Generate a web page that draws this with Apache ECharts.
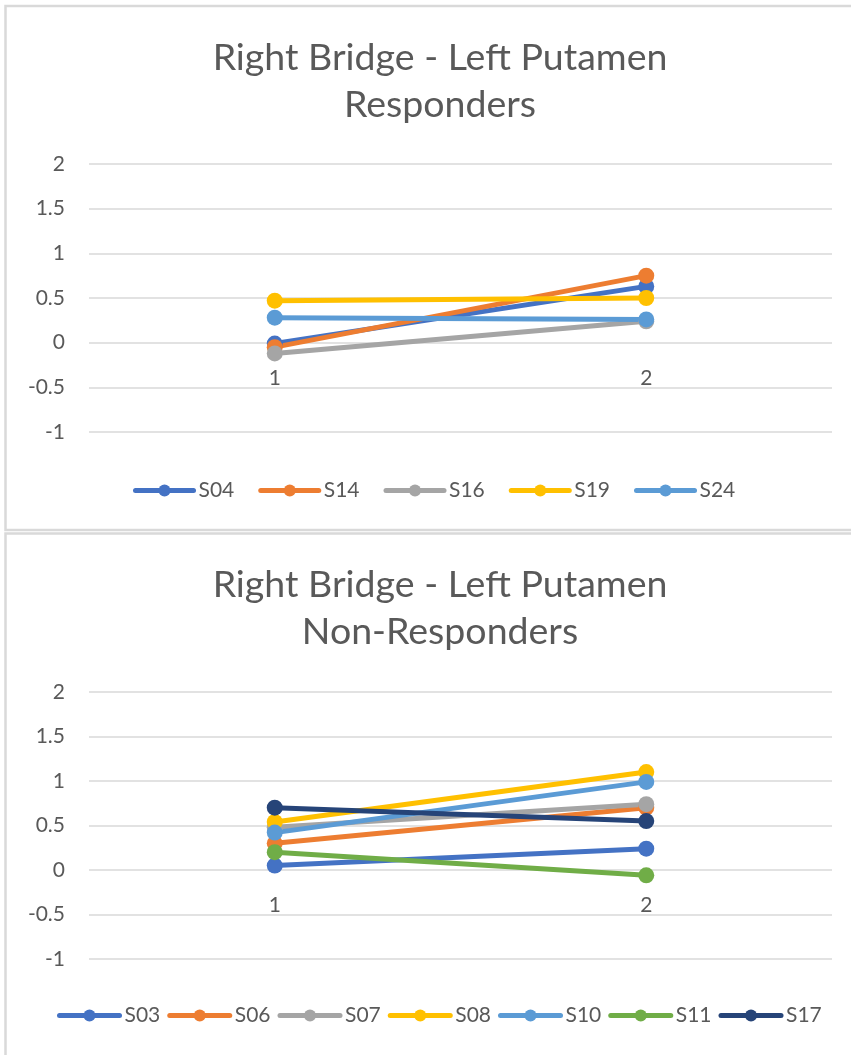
<!DOCTYPE html>
<html>
<head>
<meta charset="utf-8">
<script src="https://cdn.jsdelivr.net/npm/echarts@6/dist/echarts.min.js"></script>
<style>
  html, body { margin: 0; padding: 0; background: #ffffff; overflow: hidden; }
  #chart { width: 851px; height: 1055px; }
</style>
</head>
<body>
<div id="chart"></div>
<script>
// Timepoints on the category axis
const timepoints = ['1', '2'];

// Responders
const respNames = ['S04', 'S14', 'S16', 'S19', 'S24'];
const S04 = [-0.01, 0.63];
const S14 = [-0.05, 0.75];
const S16 = [-0.12, 0.24];
const S19 = [0.47, 0.50];
const S24 = [0.28, 0.26];
const respValues = [S04, S14, S16, S19, S24];

// Non-responders
const nonNames = ['S03', 'S06', 'S07', 'S08', 'S10', 'S11', 'S17'];
const S03 = [0.05, 0.24];
const S06 = [0.30, 0.70];
const S07 = [0.48, 0.74];
const S08 = [0.54, 1.10];
const S10 = [0.42, 0.99];
const S11 = [0.20, -0.06];
const S17 = [0.70, 0.55];
const nonValues = [S03, S06, S07, S08, S10, S11, S17];

const yTicks = { min: -1, max: 2, interval: 0.5 };

const respColors = ['#4472C4', '#ED7D31', '#A5A5A5', '#FFC000', '#5B9BD5'];
const nonColors = ['#4472C4', '#ED7D31', '#A5A5A5', '#FFC000', '#5B9BD5', '#70AD47', '#264478'];

const FONT = 'Lato, "Open Sans", sans-serif';
const TEXT = '#595959';
const GRID = '#d9d9d9';

// Category labels sit on the zero line: shift the x axis up from the grid bottom
// by the pixel distance between y = -1 and y = 0.
function axisPair(idx, gridHeight) {
  const zeroShift = gridHeight * (0 - yTicks.min) / (yTicks.max - yTicks.min);
  return {
    x: {
      type: 'category', gridIndex: idx, data: timepoints,
      offset: -zeroShift,
      axisLine: { show: false, onZero: false },
      axisTick: { show: false },
      axisLabel: { color: TEXT, fontSize: 21, fontFamily: FONT, margin: 25 }
    },
    y: {
      type: 'value', gridIndex: idx, min: yTicks.min, max: yTicks.max, interval: yTicks.interval,
      axisLine: { show: false }, axisTick: { show: false },
      axisLabel: { color: TEXT, fontSize: 21, fontFamily: FONT, margin: 24 },
      splitLine: { lineStyle: { color: GRID, width: 1.5 } }
    }
  };
}

function makeSeries(names, values, colors, idx) {
  return names.map((n, i) => ({
    name: n, type: 'line', xAxisIndex: idx, yAxisIndex: idx,
    data: values[i], symbol: 'circle', symbolSize: 16,
    lineStyle: { width: 5, color: colors[i] },
    itemStyle: { color: colors[i] },
    emphasis: { disabled: true },
    animation: false
  }));
}

const GRID_H = [268, 267];
const a0 = axisPair(0, GRID_H[0]), a1 = axisPair(1, GRID_H[1]);

const legendBase = {
  itemHeight: 15,
  lineStyle: { width: 5, cap: 'round' },
  textStyle: { color: TEXT, fontSize: 21, fontFamily: FONT },
  selectedMode: false
};

const titleText = { color: TEXT, fontSize: 37.5, fontWeight: 'normal', fontFamily: FONT, lineHeight: 47 };

const option = {
  animation: false,
  graphic: [
    { type: 'rect', shape: { x: 5.5, y: 6, width: 880, height: 524 }, style: { fill: 'none', stroke: GRID, lineWidth: 2.5 } },
    { type: 'rect', shape: { x: 5.5, y: 533.5, width: 880, height: 540 }, style: { fill: 'none', stroke: GRID, lineWidth: 2.5 } }
  ],
  title: [
    { text: 'Right Bridge - Left Putamen\nResponders', left: 435, top: 29, textAlign: 'center', textStyle: titleText },
    { text: 'Right Bridge - Left Putamen\nNon-Responders', left: 435, top: 556, textAlign: 'center', textStyle: titleText }
  ],
  legend: [
    Object.assign({ data: respNames, left: 128, top: 475, itemWidth: 58, itemGap: 24 }, legendBase),
    Object.assign({ data: nonNames, left: 52, top: 1000, itemWidth: 60, itemGap: 7 }, legendBase)
  ],
  grid: [
    { left: 89, right: 19, top: 164, height: GRID_H[0] },
    { left: 89, right: 19, top: 692, height: GRID_H[1] }
  ],
  xAxis: [a0.x, a1.x],
  yAxis: [a0.y, a1.y],
  series: makeSeries(respNames, respValues, respColors, 0)
    .concat(makeSeries(nonNames, nonValues, nonColors, 1))
};

const chart = echarts.init(document.getElementById('chart'), null, { renderer: 'canvas' });
chart.setOption(option);
</script>
</body>
</html>
